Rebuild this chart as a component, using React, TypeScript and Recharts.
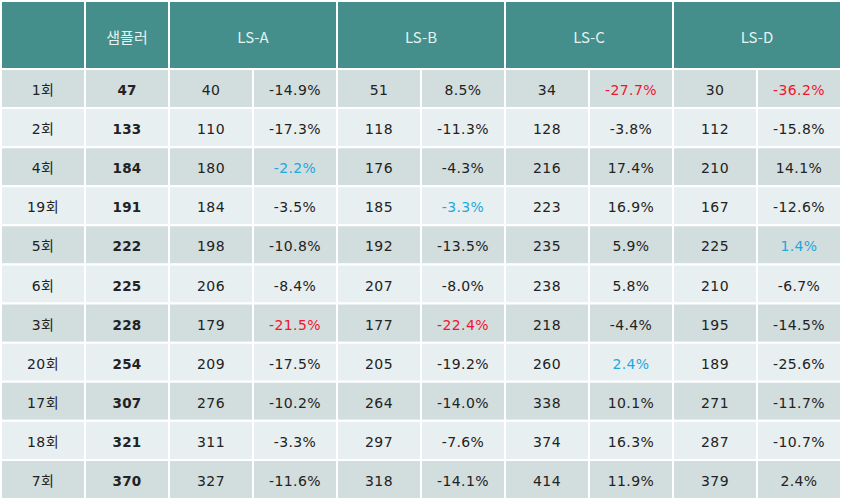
import React from 'react';
import { ScatterChart, Scatter, XAxis, YAxis, ReferenceArea } from 'recharts';

const headerLabels = ['', '샘플러', 'LS-A', 'LS-B', 'LS-C', 'LS-D'];
const rowLabels = ['1회', '2회', '4회', '19회', '5회', '6회', '3회', '20회', '17회', '18회', '7회'];
const sampler = [47, 133, 184, 191, 222, 225, 228, 254, 307, 321, 370];
const lsAValues = [40, 110, 180, 184, 198, 206, 179, 209, 276, 311, 327];
const lsAPct = [-14.9, -17.3, -2.2, -3.5, -10.8, -8.4, -21.5, -17.5, -10.2, -3.3, -11.6];
const lsBValues = [51, 118, 176, 185, 192, 207, 177, 205, 264, 297, 318];
const lsBPct = [8.5, -11.3, -4.3, -3.3, -13.5, -8.0, -22.4, -19.2, -14.0, -7.6, -14.1];
const lsCValues = [34, 128, 216, 223, 235, 238, 218, 260, 338, 374, 414];
const lsCPct = [-27.7, -3.8, 17.4, 16.9, 5.9, 5.8, -4.4, 2.4, 10.1, 16.3, 11.9];
const lsDValues = [30, 112, 210, 167, 225, 210, 195, 189, 271, 287, 379];
const lsDPct = [-36.2, -15.8, 14.1, -12.6, 1.4, -6.7, -14.5, -25.6, -11.7, -10.7, 2.4];

const groups = [
  { values: lsAValues, pct: lsAPct },
  { values: lsBValues, pct: lsBPct },
  { values: lsCValues, pct: lsCPct },
  { values: lsDValues, pct: lsDPct },
];

const W = 844;
const H = 502;
const HDR = 1.74;
const NROWS = rowLabels.length;
const TOTAL = HDR + NROWS;

const TEAL = '#448f8b';
const ROW_DARK = '#d2dddd';
const ROW_LIGHT = '#e8eff0';
const RED = '#f0142d';
const BLUE = '#22a8dc';
const TEXT = '#222222';
const HEAD_TEXT = '#e4f2f0';

type Area = { x1: number; x2: number; y1: number; y2: number; fill: string };
type Label = { x: number; y: number; text: string; color: string; kind: 'head' | 'body' | 'bold' };

const areas: Area[] = [];
const labels: Label[] = [];

const headerSpans = [
  [0, 1], [1, 2], [2, 4], [4, 6], [6, 8], [8, 10],
];
headerSpans.forEach(([a, b], i) => {
  areas.push({ x1: a, x2: b, y1: 0, y2: HDR, fill: TEAL });
  if (headerLabels[i]) {
    labels.push({ x: (a + b) / 2, y: HDR / 2, text: headerLabels[i], color: HEAD_TEXT, kind: 'head' });
  }
});

const fmtPct = (v: number) => `${v.toFixed(1)}%`;

const minIdx = groups.map((g) => g.pct.indexOf(Math.min(...g.pct)));
const absMinIdx = groups.map((g) => {
  const abs = g.pct.map((v) => Math.abs(v));
  return abs.indexOf(Math.min(...abs));
});

rowLabels.forEach((lab, r) => {
  const fill = r % 2 === 0 ? ROW_DARK : ROW_LIGHT;
  const y1 = HDR + r;
  const yc = y1 + 0.5;
  for (let c = 0; c < 10; c++) {
    areas.push({ x1: c, x2: c + 1, y1, y2: y1 + 1, fill });
  }
  labels.push({ x: 0.5, y: yc, text: lab, color: TEXT, kind: 'body' });
  labels.push({ x: 1.5, y: yc, text: String(sampler[r]), color: TEXT, kind: 'bold' });
  groups.forEach((g, gi) => {
    const c = 2 + gi * 2;
    labels.push({ x: c + 0.5, y: yc, text: String(g.values[r]), color: TEXT, kind: 'body' });
    let color = TEXT;
    if (minIdx[gi] === r) color = RED;
    else if (absMinIdx[gi] === r) color = BLUE;
    labels.push({ x: c + 1.5, y: yc, text: fmtPct(g.pct[r]), color, kind: 'body' });
  });
});

const LabelShape = (props: any) => {
  const { cx, cy, payload } = props;
  const p = payload as Label;
  let fontFamily = '"DejaVu Sans", "Noto Sans CJK KR", sans-serif';
  let fontSize = 14;
  let fontWeight: any = 'normal';
  let letterSpacing = 0.4;
  if (p.kind === 'head') {
    fontFamily = '"Noto Sans CJK KR", "DejaVu Sans", sans-serif';
    fontSize = 15;
    letterSpacing = 0;
  } else if (p.kind === 'bold') {
    fontFamily = '"DejaVu Sans", sans-serif';
    fontWeight = 'bold';
    fontSize = 13.5;
    letterSpacing = 0.2;
  }
  return (
    <text
      x={cx}
      y={cy + 1.5}
      textAnchor="middle"
      dominantBaseline="central"
      fill={p.color}
      fontFamily={fontFamily}
      fontSize={fontSize}
      fontWeight={fontWeight}
      letterSpacing={letterSpacing}
    >
      {p.text}
    </text>
  );
};

export default function App() {
  return (
    <div style={{ position: 'absolute', left: 0, top: 0, width: W, height: H, background: '#fff' }}>
      <ScatterChart width={W} height={H} margin={{ top: 1, left: 1, right: 3, bottom: 3 }}>
        <XAxis type="number" dataKey="x" domain={[0, 10]} hide />
        <YAxis type="number" dataKey="y" domain={[0, TOTAL]} reversed hide />
        {areas.map((a, i) => (
          <ReferenceArea
            key={i}
            x1={a.x1}
            x2={a.x2}
            y1={a.y1}
            y2={a.y2}
            fill={a.fill}
            fillOpacity={1}
            stroke="#ffffff"
            strokeWidth={2}
            ifOverflow="visible"
          />
        ))}
        <Scatter data={labels} shape={LabelShape} isAnimationActive={false} />
      </ScatterChart>
    </div>
  );
}
